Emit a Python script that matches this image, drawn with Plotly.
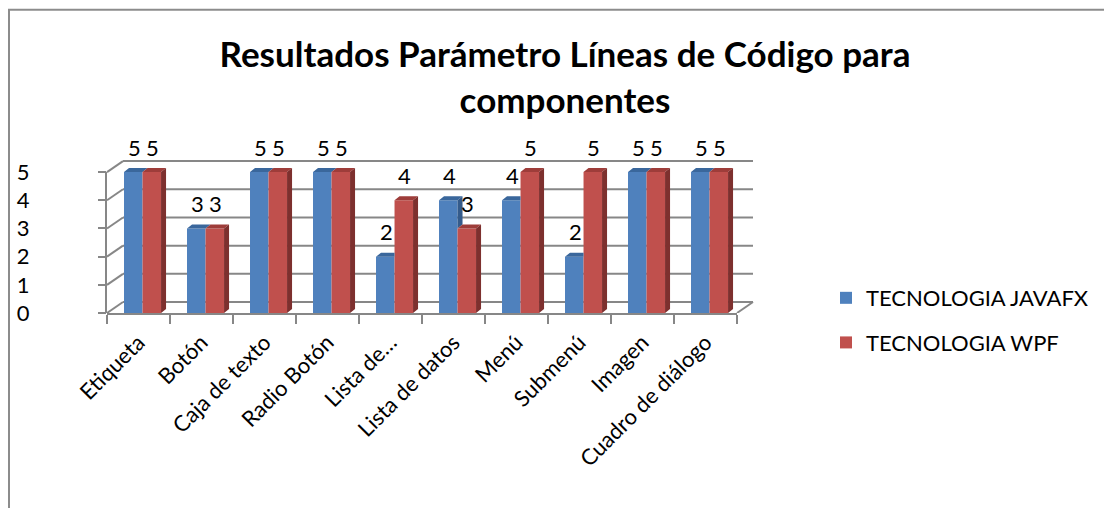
import plotly.graph_objects as go

categories = ["Etiqueta", "Botón", "Caja de texto", "Radio Botón", "Lista de…",
              "Lista de datos", "Menú", "Submenú", "Imagen", "Cuadro de diálogo"]
javafx = [5, 3, 5, 5, 2, 4, 4, 2, 5, 5]
wpf = [5, 3, 5, 5, 4, 3, 5, 5, 5, 5]
series_names = ["TECNOLOGIA JAVAFX", "TECNOLOGIA WPF"]
y_ticks = [0, 1, 2, 3, 4, 5]
title_text = "Resultados Parámetro Líneas de Código para<br>componentes"

OFF = 8  # page body margin
W, H = 1112 - OFF, 508 - OFF
L_PX, R_PX = 107 - OFF, 737 - OFF
B_PX = 313 - OFF
PX_PER_UNIT = 141 / 5
YMAX = 5.5
T_PX = B_PX - YMAX * PX_PER_UNIT
FONT = "Lato"
FS = 22
GRID = "#878787"
BLUE, RED = "#4F81BD", "#C0504D"
BLUE_TOP, BLUE_SIDE = "#3A679C", "#345B8B"
RED_TOP, RED_SIDE = "#9E3D3A", "#7D302E"

BW = 0.294          # bar width (category units)
SHIFT = 0.064       # depth shift of bars
DX = 5 / 63         # 3D depth in x units
DY = 4 / PX_PER_UNIT  # 3D depth in y units
BACK_DX, BACK_DY = 16, 11  # back wall offset (px)

def px_x(px):
    return (px - OFF - L_PX) / (R_PX - L_PX)

def px_y(py):
    return (B_PX - (py - OFF)) / (B_PX - T_PX)

fig = go.Figure()
fig.add_trace(go.Bar(x=categories, y=javafx, name=series_names[0], marker_color=BLUE,
                     width=BW, offset=-BW + SHIFT, legendgroup="a",
                     marker_line_width=0, hoverinfo="y"))
fig.add_trace(go.Bar(x=categories, y=wpf, name=series_names[1], marker_color=RED,
                     width=BW, offset=SHIFT, legendgroup="b",
                     marker_line_width=0, hoverinfo="y"))

# 3D faces (computed from the same values)
bt_x, bt_y, bs_x, bs_y, rt_x, rt_y, rs_x, rs_y = [], [], [], [], [], [], [], []
for i, (vb, vr) in enumerate(zip(javafx, wpf)):
    xl = i - BW + SHIFT
    xm = i + SHIFT
    xr = i + BW + SHIFT
    if vb >= vr:
        bt_x += [xl, xm, xm + DX, xl + DX, None]
    else:
        bt_x += [xl, xm, xm, xl + DX, None]
    bt_y += [vb, vb, vb + DY, vb + DY, None]
    if vb > vr:
        bs_x += [xm, xm, xm + DX, xm + DX, None]
        bs_y += [vr, vb, vb + DY, vr + DY, None]
    rt_x += [xm, xr, xr + DX, xm + DX, None]
    rt_y += [vr, vr, vr + DY, vr + DY, None]
    rs_x += [xr, xr, xr + DX, xr + DX, None]
    rs_y += [0, vr, vr + DY, DY, None]

for xs, ys, col in [(bt_x, bt_y, BLUE_TOP), (bs_x, bs_y, BLUE_SIDE),
                    (rt_x, rt_y, RED_TOP), (rs_x, rs_y, RED_SIDE)]:
    fig.add_trace(go.Scatter(x=xs, y=ys, xaxis="x2", yaxis="y", mode="lines",
                             fill="toself", fillcolor=col, line=dict(width=0, color=col),
                             showlegend=False, hoverinfo="skip"))

# data labels
annotations = []
for i, (vb, vr) in enumerate(zip(javafx, wpf)):
    for v, c in [(vb, i - BW / 2 + SHIFT), (vr, i + BW / 2 + SHIFT)]:
        annotations.append(dict(x=c, y=v, xref="x2", yref="y", text=str(v),
                                showarrow=False, yanchor="middle", xanchor="center",
                                yshift=25, xshift=1,
                                font=dict(family=FONT, size=FS, color="black")))

shapes = []
for k in y_ticks:
    shapes.append(dict(type="line", layer="below", xref="paper", yref="y",
                       xsizemode="pixel", xanchor=0, x0=0, x1=BACK_DX,
                       ysizemode="pixel", yanchor=k, y0=0, y1=BACK_DY,
                       line=dict(color=GRID, width=2)))
    shapes.append(dict(type="line", layer="below", xref="paper", yref="y",
                       xsizemode="pixel", xanchor=0, x0=BACK_DX, x1=BACK_DX + (R_PX - L_PX),
                       ysizemode="pixel", yanchor=k, y0=BACK_DY, y1=BACK_DY,
                       line=dict(color=GRID, width=2)))
shapes.append(dict(type="line", layer="below", xref="paper", yref="y",
                   xsizemode="pixel", xanchor=1, x0=0, x1=BACK_DX,
                   ysizemode="pixel", yanchor=0, y0=0, y1=BACK_DY,
                   line=dict(color=GRID, width=2)))
shapes.append(dict(type="line", layer="below", xref="paper", yref="y",
                   x0=px_x(106), x1=px_x(106), y0=0, y1=5,
                   line=dict(color=GRID, width=2)))
# chart frame (left and top border)
shapes.append(dict(type="line", xref="paper", yref="paper",
                   x0=px_x(9), x1=px_x(9), y0=px_y(H + OFF + 5), y1=px_y(9.5),
                   line=dict(color="#8c8c8c", width=2)))
shapes.append(dict(type="line", xref="paper", yref="paper",
                   x0=px_x(8), x1=px_x(W + OFF + 5), y0=px_y(9.5), y1=px_y(9.5),
                   line=dict(color="#8c8c8c", width=2)))

fig.update_layout(
    width=W, height=H,
    margin=dict(l=L_PX, r=W - R_PX, t=T_PX, b=H - B_PX, autoexpand=False),
    paper_bgcolor="white", plot_bgcolor="rgba(0,0,0,0)",
    barmode="overlay",
    title=dict(text=title_text, xref="container", yref="container",
               x=(565 - OFF) / W, xanchor="center", y=1 - 59 / H, yanchor="top",
               font=dict(family=FONT, size=35, color="black", weight="bold")),
    xaxis=dict(type="category", categoryarray=categories, range=[-0.5, 9.5],
               showline=True, linecolor=GRID, linewidth=2,
               ticks="outside", ticklen=9, tickwidth=2, tickcolor=GRID,
               tickson="boundaries", tickangle=-45, showgrid=False, zeroline=False,
               ticklabelstandoff=6,
               tickfont=dict(family=FONT, size=FS, color="black")),
    xaxis2=dict(overlaying="x", range=[-0.5, 9.5], visible=False, fixedrange=True),
    yaxis=dict(range=[0, YMAX], tickvals=y_ticks, showgrid=False, zeroline=False,
               showline=False, ticks="outside", ticklen=8, tickwidth=2, tickcolor=GRID,
               ticklabelstandoff=64,
               tickfont=dict(family=FONT, size=FS, color="black")),
    legend=dict(x=px_x(826), xanchor="left", y=px_y(277), yanchor="top",
                font=dict(family=FONT, size=FS, color="black"),
                tracegroupgap=13, bgcolor="rgba(0,0,0,0)"),
    showlegend=True,
    annotations=annotations,
    shapes=shapes,
)

fig.write_html("out.html")
